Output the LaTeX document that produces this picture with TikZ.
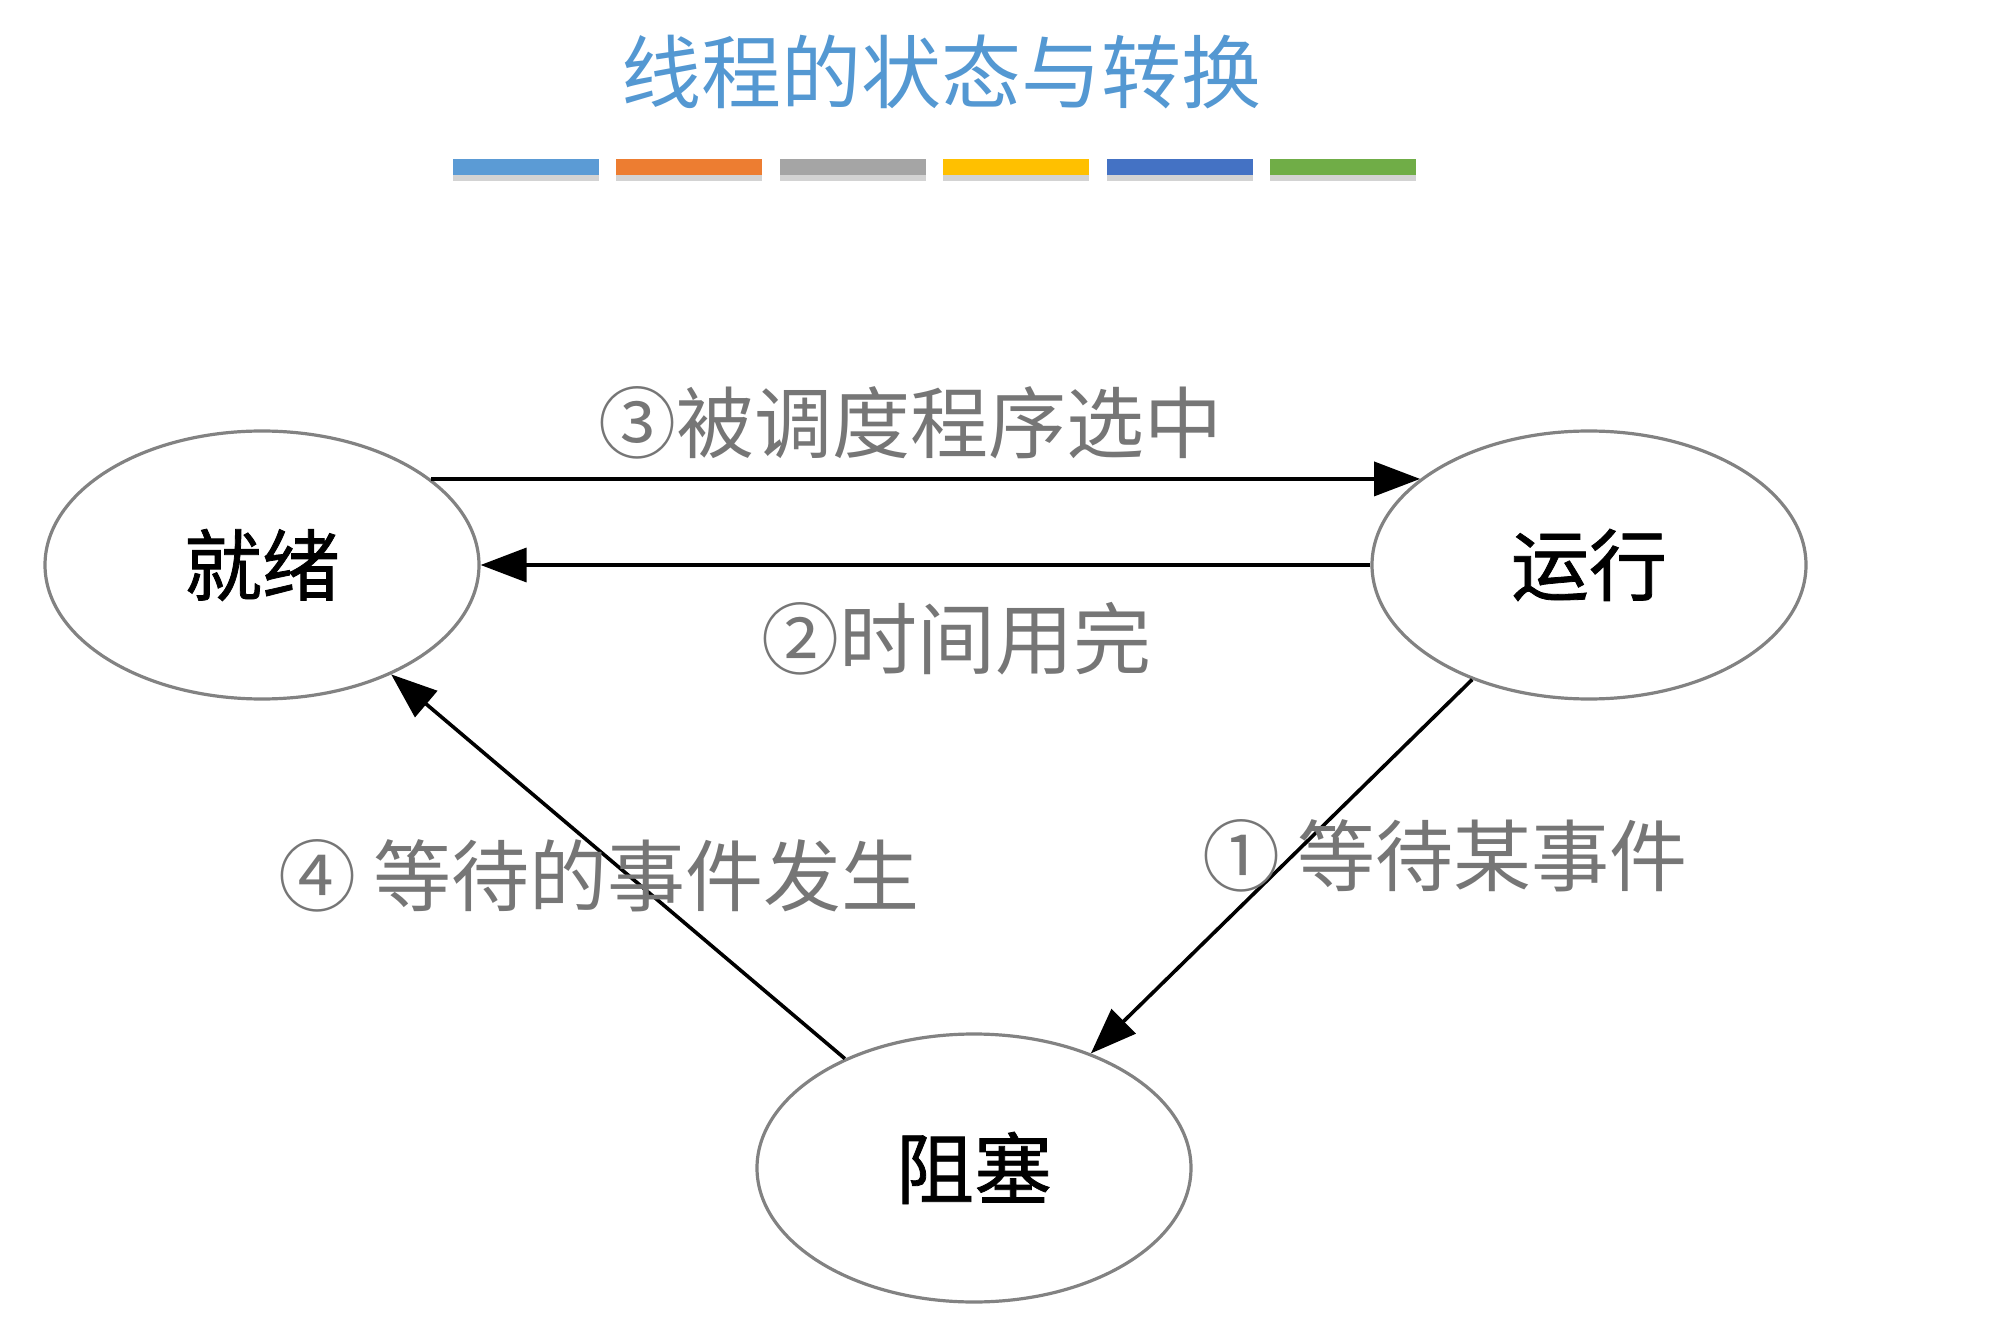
\documentclass[tikz,border=0pt]{standalone}
\usepackage{fontspec}
\setmainfont{Noto Sans CJK SC}
\newfontfamily\statefont[FakeBold=1]{Noto Sans CJK SC}
\usetikzlibrary{arrows.meta, shapes.geometric, shadows}
\definecolor{titleblue}{RGB}{84,152,210}
\definecolor{labelgray}{RGB}{118,118,118}
\definecolor{edgegray}{RGB}{130,130,130}
\definecolor{barA}{RGB}{91,155,213}
\definecolor{barB}{RGB}{237,125,49}
\definecolor{barC}{RGB}{165,165,165}
\definecolor{barD}{RGB}{255,192,0}
\definecolor{barE}{RGB}{68,114,196}
\definecolor{barF}{RGB}{112,173,71}

\begin{document}
\begin{tikzpicture}[x=0.5pt, y=-0.5pt,
    state/.style={ellipse, draw=edgegray, line width=1.6pt, fill=white,
        minimum width=217pt, minimum height=134pt, inner sep=0pt,
        font=\statefont\fontsize{39}{42}\selectfont},
    trans/.style={-{Triangle[length=23pt, width=17pt]}, line width=1.8pt},
    tlabel/.style={text=labelgray, inner sep=0pt, font=\fontsize{39}{42}\selectfont}]

    % 固定画布大小（像素坐标，原点在左上角）
    \useasboundingbox (0,0) rectangle (1997,1331);

    % --- 标题与彩色横条 ---
    \node[text=titleblue, font=\fontsize{40}{44}\selectfont] (title) at (941,72) {线程的状态与转换};
    \foreach \col [count=\i from 0] in {barA, barB, barC, barD, barE, barF} {
        \pgfmathsetmacro{\xl}{453 + \i*163.4}
        \fill[\col, drop shadow={opacity=0.35, shadow xshift=0pt, shadow yshift=-3pt}]
            (\xl,159) rectangle (\xl+146,175);
    }

    % --- 三个状态 ---
    \node[state] (ready) at (262,565) {就绪};
    \node[state] (run)   at (1589,565) {运行};
    \node[state] (block) at (974,1168) {阻塞};

    % --- 状态之间的转换 ---
    \draw[trans] (ready.27.7) -- (run.153.2);
    \draw[trans] (run.west) -- (ready.east);
    \draw[trans] (run) -- (block);
    \draw[trans] (block) -- (ready);

    % 转换说明文字
    \node[tlabel] (lbl3) at (910,423) {③被调度程序选中};
    \node[tlabel] (lbl2) at (956,639) {②时间用完};
    \node[tlabel] (lbl4) at (599,876) {④ 等待的事件发生};
    \node[tlabel] (lbl1) at (1445,856) {① 等待某事件};

\end{tikzpicture}
\end{document}
